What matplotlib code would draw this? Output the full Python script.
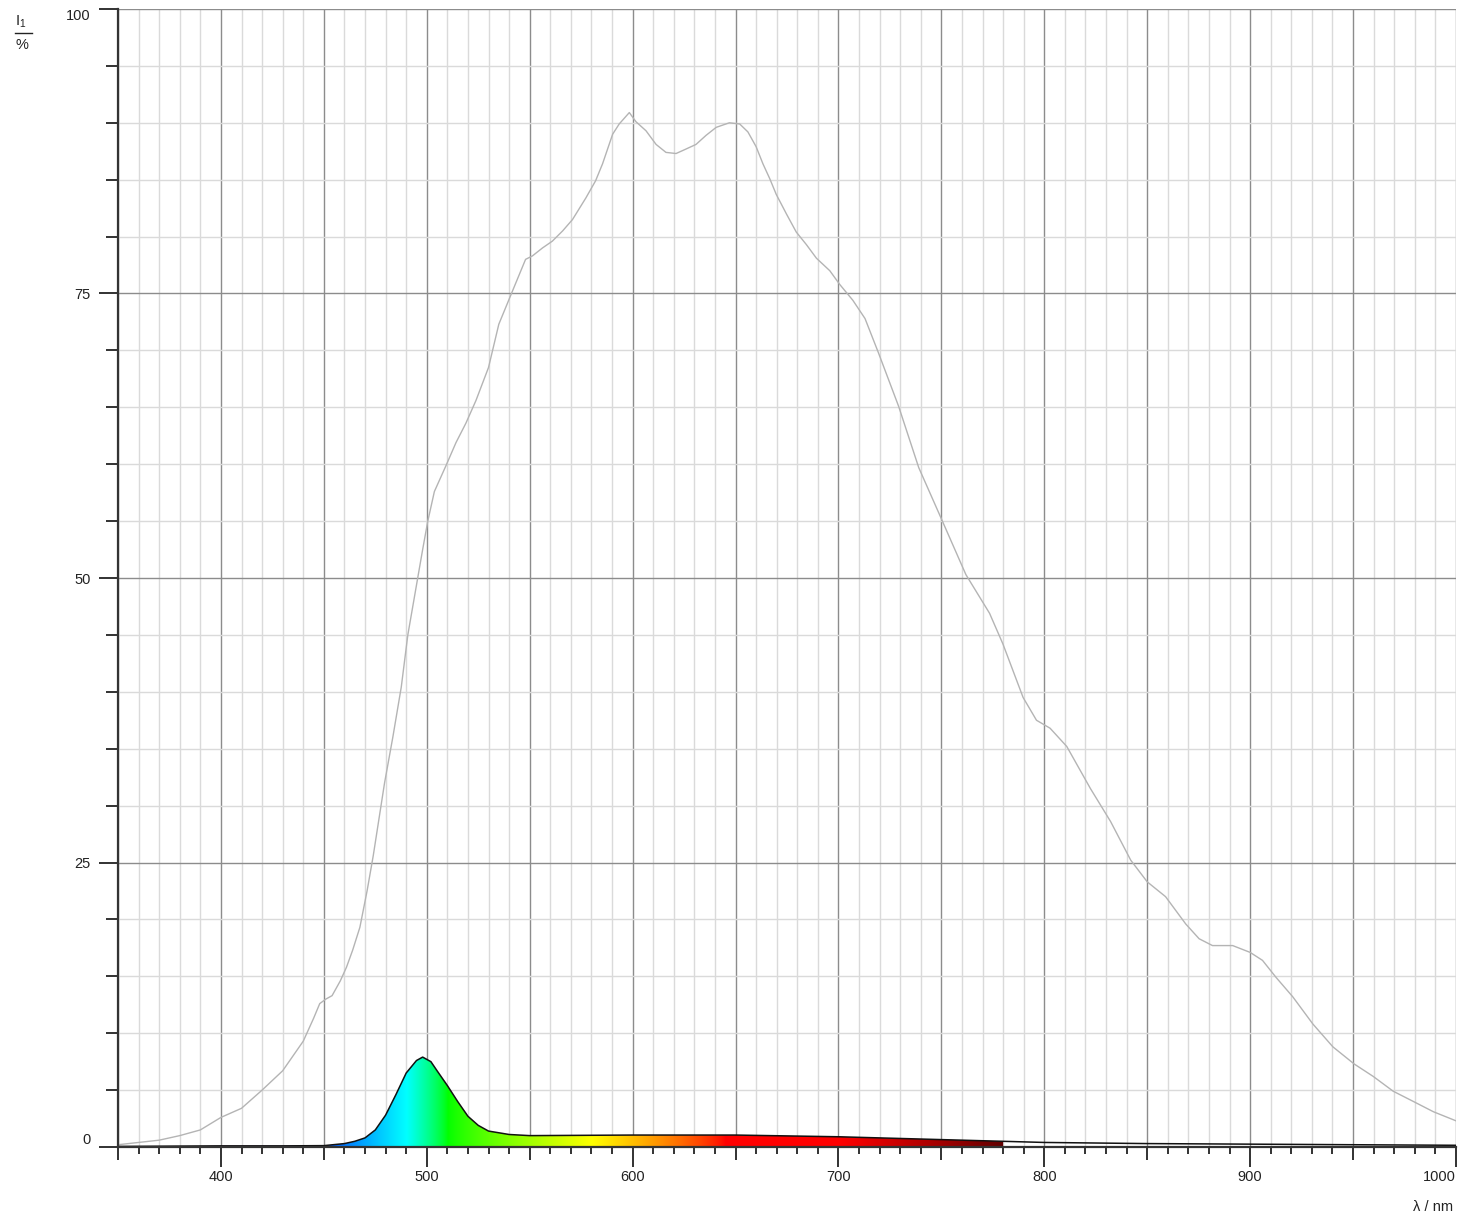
import numpy as np
import matplotlib
matplotlib.use('Agg')
import matplotlib.pyplot as plt
from matplotlib.ticker import MultipleLocator, FuncFormatter
from matplotlib.lines import Line2D

# reference spectrum (grey)
gray_nm = [350, 360, 370, 380, 390, 400, 410, 420, 430, 440, 445, 448, 451, 454, 458,
           461, 464, 467.5, 471, 474, 479.5, 483.5, 487.6, 490.8, 495.6, 498, 500.5,
           503.7, 509.4, 514.2, 519, 523.9, 530, 535, 541.6, 548, 551.3, 556.2, 561,
           566, 570.8, 577.3, 582, 585.4, 590.3, 593.5, 598.4, 601.6, 606.5, 611.4,
           616.2, 621.1, 626, 630.8, 635.7, 640.6, 647, 652, 656, 660, 663.3, 666.6,
           669.8, 674.7, 679.5, 684.4, 689.3, 695.8, 700.6, 707, 712.9, 719.4, 729.2,
           739, 750, 761.9, 773.4, 779.9, 789.7, 796.2, 802.8, 810.9, 822.4, 832.2,
           842, 850, 858.9, 868.7, 875.2, 881.7, 891.5, 900, 906, 912.6, 920.7, 930.5,
           940.2, 950.5, 959.8, 969.5, 979.3, 989, 1000]
gray_val = [0.2, 0.4, 0.6, 1.0, 1.5, 2.6, 3.4, 5.0, 6.7, 9.3, 11.3, 12.6, 13.0, 13.3, 14.6,
            15.8, 17.3, 19.3, 22.5, 25.6, 32.0, 36.0, 40.4, 45.0, 50.0, 52.5, 55.0,
            57.6, 59.9, 61.9, 63.6, 65.6, 68.5, 72.3, 75.2, 78.0, 78.3, 79.0, 79.6,
            80.5, 81.5, 83.4, 84.9, 86.4, 89.0, 89.9, 90.9, 90.1, 89.3, 88.1,
            87.4, 87.3, 87.7, 88.1, 88.9, 89.6, 90.0, 89.9, 89.2, 87.9, 86.4, 85.1,
            83.7, 82.0, 80.4, 79.3, 78.1, 77.0, 75.8, 74.4, 72.8, 69.8, 65.1,
            59.7, 55.2, 50.3, 46.9, 44.2, 39.5, 37.5, 36.8, 35.2, 31.5, 28.6,
            25.2, 23.3, 22.0, 19.6, 18.3, 17.7, 17.7, 17.1, 16.4, 14.9, 13.2, 10.8,
            8.8, 7.3, 6.2, 4.9, 4.0, 3.1, 2.3]

# measured spectrum (black, coloured fill)
sample_nm = [350, 380, 400, 430, 450, 460, 465, 470, 475, 480, 485, 490, 495, 498, 502,
             505, 510, 515, 520, 525, 530, 540, 550, 600, 650, 700, 750, 780, 800,
             850, 900, 950, 1000]
sample_val = [0.05, 0.08, 0.1, 0.1, 0.12, 0.3, 0.5, 0.8, 1.5, 2.8, 4.6, 6.5, 7.6, 7.9, 7.5,
              6.7, 5.4, 4.0, 2.7, 1.9, 1.4, 1.1, 1.0, 1.05, 1.05, 0.9, 0.65, 0.5, 0.4,
              0.3, 0.25, 0.2, 0.15]

vis_min, vis_max = 380, 780


def wl_to_rgb(wl):
    if wl < 440:
        r, g, b = -(wl - 440) / 60, 0.0, 1.0
    elif wl < 490:
        r, g, b = 0.0, (wl - 440) / 50, 1.0
    elif wl < 510:
        r, g, b = 0.0, 1.0, -(wl - 510) / 20
    elif wl < 580:
        r, g, b = (wl - 510) / 70, 1.0, 0.0
    elif wl < 645:
        r, g, b = 1.0, -(wl - 645) / 65, 0.0
    else:
        r, g, b = 1.0, 0.0, 0.0
    if wl < 420:
        f = 0.3 + 0.7 * (wl - 380) / 40
    elif wl > 700:
        f = 0.3 + 0.7 * (780 - wl) / 80
    else:
        f = 1.0
    return [(c * f) ** 0.8 for c in (r, g, b)]


plt.rcParams['font.family'] = ['Liberation Sans', 'DejaVu Sans']
plt.rcParams['mathtext.fontset'] = 'custom'
plt.rcParams['mathtext.rm'] = 'Liberation Sans'
plt.rcParams['mathtext.it'] = 'Liberation Sans'

fig = plt.figure(figsize=(14.64, 12.17), dpi=100)
ax = fig.add_axes([118 / 1464, 70 / 1217, (1456 - 118) / 1464, (1147 - 9) / 1217])

# spectral fill under the black curve
sx = np.array(sample_nm)
sy = np.array(sample_val)
m = (sx >= vis_min) & (sx <= vis_max)
poly = ax.fill_between(sx[m], sy[m], 0, facecolor='none', edgecolor='none')
grad = np.array([wl_to_rgb(w) for w in np.linspace(vis_min, vis_max, 800)])
img = ax.imshow(grad[np.newaxis, :, :], extent=[vis_min, vis_max, 0, 100],
                aspect='auto', origin='lower', zorder=2, interpolation='bilinear')
img.set_clip_path(poly.get_paths()[0], transform=ax.transData)

ax.plot(gray_nm, gray_val, color='#b4b4b4', lw=1.0, zorder=3)
ax.plot(sample_nm, sample_val, color='#111111', lw=1.1, zorder=4)

ax.set_xlim(350, 1000)
ax.set_ylim(0, 100)

ax.xaxis.set_major_locator(MultipleLocator(50))
ax.xaxis.set_minor_locator(MultipleLocator(10))
ax.yaxis.set_major_locator(MultipleLocator(25))
ax.yaxis.set_minor_locator(MultipleLocator(5))
ax.xaxis.set_major_formatter(FuncFormatter(lambda v, p: '%d' % v if v % 100 == 0 else ''))
ax.yaxis.set_major_formatter(FuncFormatter(lambda v, p: '%d' % v))

ax.grid(which='minor', color='#dadada', lw=1.0)
ax.grid(which='major', color='#8c8c8c', lw=1.0)
ax.set_axisbelow(True)

for s in ['top', 'right']:
    ax.spines[s].set_visible(False)
for s in ['left', 'bottom']:
    ax.spines[s].set_color('#333333')
    ax.spines[s].set_linewidth(1.6)
    ax.spines[s].set_zorder(5)

ax.tick_params(axis='x', which='major', length=9.4, width=1.3, pad=7.2,
               labelsize=10.5, colors='#222222')
ax.tick_params(axis='x', which='minor', length=5, width=1.3, colors='#222222')
ax.tick_params(axis='y', which='major', length=13.7, width=1.3, pad=5.8,
               labelsize=10.5, colors='#222222')
ax.tick_params(axis='y', which='minor', length=8.6, width=1.3, colors='#222222')

fig.canvas.draw()
for t in ax.xaxis.get_major_ticks():
    if round(t.get_loc()) % 100 == 0:
        t.tick1line.set_markersize(14.4)
    if round(t.get_loc()) == 1000:
        t.label1.set_ha('right')
for t in ax.yaxis.get_major_ticks():
    if t.get_loc() == 100:
        t.label1.set_va('top')
    elif t.get_loc() == 0:
        t.label1.set_va('bottom')

# axis captions
fig.text(21 / 1464, 1 - 22 / 1217, r'I$_1$', ha='center', va='center', fontsize=10.5, color='#222222')
fig.add_artist(Line2D([15 / 1464, 32 / 1464], [1 - 33 / 1217, 1 - 33 / 1217],
                      color='#222222', lw=1.0))
fig.text(22 / 1464, 1 - 45 / 1217, '%', ha='center', va='center', fontsize=10.5, color='#222222')
fig.text(1453 / 1464, 1 - 1207 / 1217, 'λ / nm', ha='right', va='center', fontsize=10.5,
         color='#222222')

fig.savefig('out.png', dpi=100)
